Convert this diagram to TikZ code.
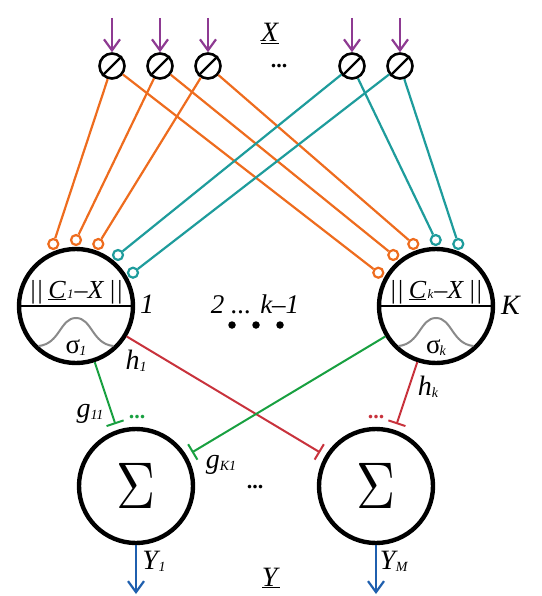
\documentclass[tikz,border=0pt]{standalone}
\usepackage{fontspec}
\setmainfont{Liberation Serif}
\usetikzlibrary{arrows.meta}
\definecolor{cOrange}{HTML}{EE6C1E}
\definecolor{cTeal}{HTML}{1E9C9C}
\definecolor{cPurple}{HTML}{8E3A92}
\definecolor{cRed}{HTML}{C8323C}
\definecolor{cGreen}{HTML}{18A040}
\definecolor{cBlue}{HTML}{1F5FAE}
\definecolor{cGrey}{HTML}{8A8A8A}
\newcommand\fsz[1]{\fontsize{#1}{#1}\selectfont}
\newcommand\subs[1]{\raisebox{-2pt}{\fsz{14}\textit{#1}}}
\tikzset{
  bigcirc/.style={circle,draw=black,line width=4.4pt,minimum size=114pt,inner sep=0pt,fill=white},
  inputcirc/.style={circle,draw=black,line width=2.6pt,minimum size=25pt,inner sep=0pt,fill=white},
  port/.style={circle,line width=2.2pt,minimum size=10pt,inner sep=0pt,fill=white},
  wire/.style={line width=2.2pt},
  inarrow/.style={line width=2.2pt,cPurple,-{Straight Barb[length=11pt,width=16pt,line width=2.2pt]}},
  outarrow/.style={line width=2.2pt,cBlue,-{Straight Barb[length=11pt,width=16pt,line width=2.2pt]}},
  tbar/.style={line width=2pt,-{Bar[width=18pt,line width=2pt]},shorten >=6pt},
  lbl/.style={inner sep=0pt,anchor=base},
  bigdot/.style={circle,fill=black,minimum size=7.5pt,inner sep=0pt},
}
\begin{document}
\begin{tikzpicture}[x=1pt,y=-1pt]
\useasboundingbox (0,0) rectangle (541,596);
% main circles
\node[bigcirc] (b1) at (76,306) {};
\node[bigcirc] (bk) at (436,306) {};
\node[bigcirc] (s1) at (136,486) {};
\node[bigcirc] (sm) at (376,486) {};
\draw[line width=2.6pt] (b1.west) -- (b1.east);
\draw[line width=2.6pt] (bk.west) -- (bk.east);
\draw[cGrey,line width=2pt] (38.5,346) .. controls (60,344) and (60,318) .. (76,318) .. controls (92,318) and (92,344) .. (113.5,346);
\draw[cGrey,line width=2pt] (398.5,346) .. controls (420,344) and (420,318) .. (436,318) .. controls (452,318) and (452,344) .. (473.5,346);
% input circles
\foreach \n/\x in {1/112,2/160,3/208,4/352,5/400}{
  \node[inputcirc] (i\n) at (\x,66) {};
  \coordinate (t\n) at (\x,18);
  \draw[inarrow] (t\n) -- (i\n);
  \draw[line width=2.4pt] (i\n.225) -- (i\n.45);
}
% ports
\foreach \n/\x/\y/\c in {a/53.3/244/cOrange,b/76/240/cOrange,c/98.3/244/cOrange,d/118/255/cTeal,e/133/272.7/cTeal,
  f/378.3/272.7/cOrange,g/393.3/255/cOrange,h/413.3/244/cOrange,j/435.7/240/cTeal,k/458.3/244/cTeal}{
  \node[port,draw=\c] (p\n) at (\x,\y) {};
}
% orange and teal wires
\draw[wire,cOrange] (i1) -- (pa);
\draw[wire,cOrange] (i2) -- (pb);
\draw[wire,cOrange] (i3) -- (pc);
\draw[wire,cOrange] (i1) -- (pf);
\draw[wire,cOrange] (i2) -- (pg);
\draw[wire,cOrange] (i3) -- (ph);
\draw[wire,cTeal] (i4) -- (pd);
\draw[wire,cTeal] (i5) -- (pe);
\draw[wire,cTeal] (i4) -- (pj);
\draw[wire,cTeal] (i5) -- (pk);
% weights
\draw[tbar,cGreen] (b1) -- (s1);
\draw[tbar,cRed] (b1) -- (sm);
\draw[tbar,cGreen] (bk) -- (s1);
\draw[tbar,cRed] (bk) -- (sm);
% outputs
\coordinate (o1) at (136,594);
\coordinate (om) at (376,594);
\draw[outarrow] (s1) -- (o1);
\draw[outarrow] (sm) -- (om);
% dots
\node[bigdot] (d1) at (232,325) {};
\node[bigdot] (d2) at (256,325) {};
\node[bigdot] (d3) at (280,325) {};
% texts in circles
\node[lbl] (tb1) at (76,298) {\fsz{26}\textit{||\kern5pt\underline{C}\kern1.5pt{\fsz{13}1}\kern1pt–X\kern5pt||}};
\node[lbl] (tbk) at (436,298) {\fsz{26}\textit{||\kern5pt\underline{C}\kern1.5pt{\fsz{13}k}\kern1pt–X\kern5pt||}};
\node[lbl] (sg1) at (76,353) {\fsz{27}σ\kern-1pt\subs{1}};
\node[lbl] (sgk) at (436,353) {\fsz{27}σ\kern-1pt\subs{k}};
\node[lbl] (S1) at (136,508) {\scalebox{5.4}[6.6]{\fsz{10}$\Sigma$}};
\node[lbl] (Sm) at (376,508) {\scalebox{5.4}[6.6]{\fsz{10}$\Sigma$}};
% labels
\node[lbl] (lX) at (270,42) {\fsz{28}\underline{\textit{X}}};
\node[lbl] (lY) at (271,586) {\fsz{28}\underline{\textit{Y}}};
\node[lbl] (dtop) at (279,68) {\fsz{22}\textbf{...}};
\node[lbl] (dmid) at (255,488) {\fsz{22}\textbf{...}};
\node[lbl,cGreen] (dg) at (137,418) {\fsz{22}\textbf{...}};
\node[lbl,cRed] (dr) at (376,418) {\fsz{22}\textbf{...}};
\node[lbl] (l1) at (147,313) {\fsz{28}\textit{1}};
\node[lbl] (lK) at (511,314) {\fsz{28}\textit{K}};
\node[lbl] (lmid) at (255,313) {\fsz{27}\textit{2 ... k–1}};
\node[lbl] (lh1) at (136,369) {\fsz{28}\textit{h}\subs{1}};
\node[lbl] (lhk) at (428,395) {\fsz{28}\textit{h}\subs{k}};
\node[lbl] (lg11) at (90,417) {\fsz{28}\textit{g}\subs{11}};
\node[lbl] (lgk1) at (221,468) {\fsz{28}\textit{g}\subs{K1}};
\node[lbl] (ly1) at (154,569) {\fsz{28}\textit{Y}\kern-2pt\subs{1}};
\node[lbl] (lym) at (394,569) {\fsz{28}\textit{Y}\kern-2pt\subs{M}};
\end{tikzpicture}
\end{document}
